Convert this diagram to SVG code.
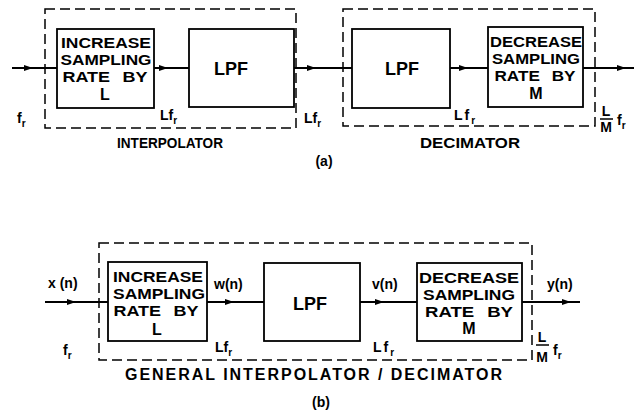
<svg xmlns="http://www.w3.org/2000/svg" width="640" height="412" viewBox="0 0 640 412">
<defs>
<marker id="ah" markerUnits="userSpaceOnUse" markerWidth="9" markerHeight="6" refX="9" refY="3" orient="auto">
<path d="M0,0 L9,3 L0,6 z" fill="#000"/>
</marker>
<style>
.box{fill:#fff;stroke:#000;stroke-width:1.8}
.dash{fill:none;stroke:#000;stroke-width:1.5;stroke-dasharray:10 5}
.ln{fill:none;stroke:#000;stroke-width:2;marker-mid:url(#ah)}
text{font-family:"Liberation Sans",Arial,sans-serif;font-weight:bold;fill:#000}
.bt{font-size:14.5px;text-anchor:middle}
.one{font-size:16px;text-anchor:middle}
.lp{font-size:18px;text-anchor:middle}
.lb{font-size:14px}
.sub{font-size:10px}
.cap{font-size:15px;text-anchor:middle}
.cap2{font-size:16px}
</style>
</defs>
<rect x="0" y="0" width="640" height="412" fill="#fff"/>

<g id="interpolator-a">
<rect class="dash" x="45" y="9" width="251" height="119"/>
<text class="cap" x="170" y="148" textLength="106" lengthAdjust="spacingAndGlyphs">INTERPOLATOR</text>
</g>
<g id="decimator-a">
<rect class="dash" x="343" y="9" width="252" height="117"/>
<text class="cap" x="470" y="148" textLength="100" lengthAdjust="spacingAndGlyphs">DECIMATOR</text>
</g>
<g id="increase-a">
<rect class="box" x="57" y="29" width="97" height="79"/>
<text class="bt" x="106" y="48" textLength="90" lengthAdjust="spacingAndGlyphs">INCREASE</text>
<text class="bt" x="106" y="65" textLength="91" lengthAdjust="spacingAndGlyphs">SAMPLING</text>
<text class="bt" x="105" y="82" textLength="85" lengthAdjust="spacingAndGlyphs" word-spacing="6">RATE BY</text>
<text class="one" x="105" y="100">L</text>
</g>
<g id="lpf1-a">
<rect class="box" x="189" y="29" width="105" height="78"/>
<text class="lp" x="231" y="75">LPF</text>
</g>
<g id="lpf2-a">
<rect class="box" x="352" y="29" width="98" height="79"/>
<text class="lp" x="402" y="75">LPF</text>
</g>
<g id="decrease-a">
<rect class="box" x="488" y="27" width="95" height="80"/>
<text class="bt" x="536" y="47" textLength="92" lengthAdjust="spacingAndGlyphs">DECREASE</text>
<text class="bt" x="536" y="64" textLength="88" lengthAdjust="spacingAndGlyphs">SAMPLING</text>
<text class="bt" x="535" y="81" textLength="81" lengthAdjust="spacingAndGlyphs" word-spacing="6">RATE BY</text>
<text class="one" x="536" y="99">M</text>
</g>

<g id="connectors">
<path class="ln" d="M12,68 H33 H57"/>
<path class="ln" d="M154,68 H168 H189"/>
<path class="ln" d="M294,68 H316 H352"/>
<path class="ln" d="M450,68 H468 H488"/>
<path class="ln" d="M583,68 H626 H634"/>
<path class="ln" d="M45,302 H76 H108"/>
<path class="ln" d="M207,302 H234 H264"/>
<path class="ln" d="M360,302 H384 H417"/>
<path class="ln" d="M522,302 H571 H580"/>
</g>

<g id="labels-a">
<text class="lb" x="17" y="123">f<tspan class="sub" dy="4">r</tspan></text>
<text class="lb" x="160" y="120">Lf<tspan class="sub" dy="4">r</tspan></text>
<text class="lb" x="304" y="123">Lf<tspan class="sub" dy="4">r</tspan></text>
<text class="lb" x="454" y="120" letter-spacing="2">Lf<tspan class="sub" dy="4" letter-spacing="0">r</tspan></text>
<text class="lb" x="606" y="116" font-size="11px" text-anchor="middle">L</text>
<line x1="600" y1="119" x2="613" y2="119" stroke="#000" stroke-width="1.5"/>
<text class="lb" x="606" y="132" font-size="11px" text-anchor="middle">M</text>
<text class="lb" x="617" y="125">f<tspan class="sub" dy="4">r</tspan></text>
<text class="lb" x="324" y="166" text-anchor="middle">(a)</text>
</g>

<g id="general-b">
<rect class="dash" x="99" y="243" width="433" height="117"/>
<text class="cap2" x="125" y="380" textLength="377" lengthAdjust="spacing">GENERAL  INTERPOLATOR / DECIMATOR</text>
</g>
<g id="increase-b">
<rect class="box" x="108" y="262" width="99" height="79"/>
<text class="bt" x="158" y="282" textLength="90" lengthAdjust="spacingAndGlyphs">INCREASE</text>
<text class="bt" x="159" y="299" textLength="92" lengthAdjust="spacingAndGlyphs">SAMPLING</text>
<text class="bt" x="156" y="316" textLength="85" lengthAdjust="spacingAndGlyphs" word-spacing="6">RATE BY</text>
<text class="one" x="157" y="335">L</text>
</g>
<g id="lpf-b">
<rect class="box" x="264" y="263" width="96" height="78"/>
<text class="lp" x="310" y="310">LPF</text>
</g>
<g id="decrease-b">
<rect class="box" x="417" y="263" width="105" height="78"/>
<text class="bt" x="469" y="283" textLength="100" lengthAdjust="spacingAndGlyphs">DECREASE</text>
<text class="bt" x="469" y="300" textLength="92" lengthAdjust="spacingAndGlyphs">SAMPLING</text>
<text class="bt" x="469" y="317" textLength="88" lengthAdjust="spacingAndGlyphs" word-spacing="6">RATE BY</text>
<text class="one" x="469" y="334">M</text>
</g>
<g id="labels-b">
<text class="lb" x="48" y="288">x (n)</text>
<text class="lb" x="214" y="289">w(n)</text>
<text class="lb" x="372" y="289">v(n)</text>
<text class="lb" x="547" y="289">y(n)</text>
<text class="lb" x="63" y="355">f<tspan class="sub" dy="4">r</tspan></text>
<text class="lb" x="215" y="352">Lf<tspan class="sub" dy="4">r</tspan></text>
<text class="lb" x="373" y="352" letter-spacing="2">Lf<tspan class="sub" dy="4" letter-spacing="0">r</tspan></text>
<text class="lb" x="542" y="342" font-size="11px" text-anchor="middle">L</text>
<line x1="536" y1="345" x2="549" y2="345" stroke="#000" stroke-width="1.5"/>
<text class="lb" x="542" y="362" font-size="11px" text-anchor="middle">M</text>
<text class="lb" x="553" y="355">f<tspan class="sub" dy="4">r</tspan></text>
<text class="lb" x="321" y="407" text-anchor="middle">(b)</text>
</g>
</svg>
